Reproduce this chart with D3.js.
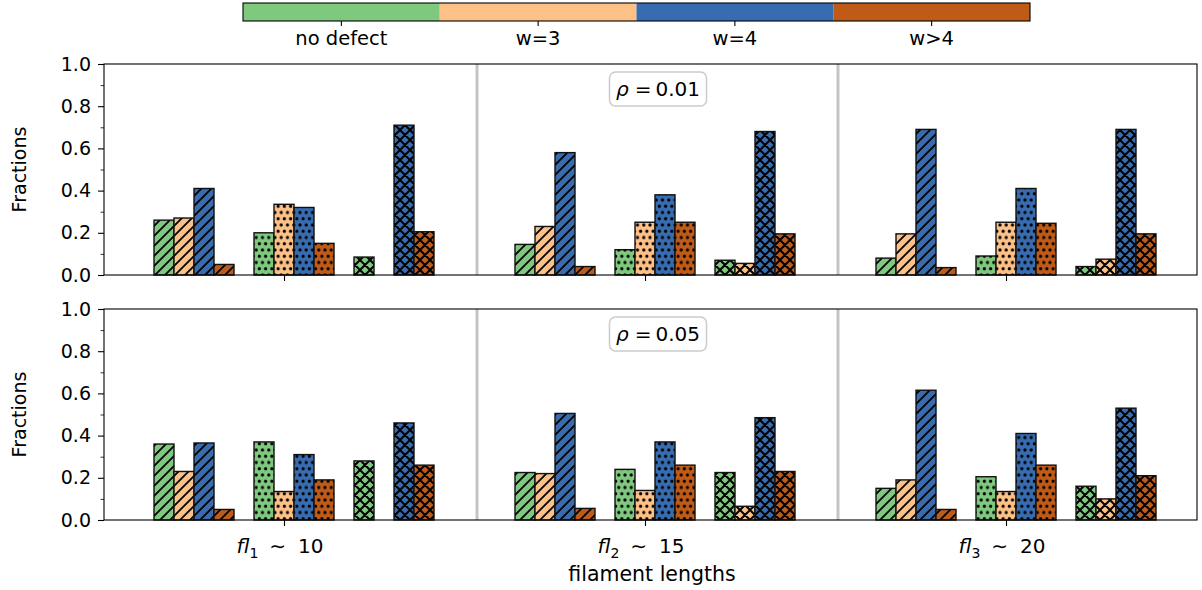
<!DOCTYPE html>
<html><head><meta charset="utf-8">
<script src="https://cdn.jsdelivr.net/npm/d3@7"></script>
<style>body{margin:0;background:#fff} text{font-family:"DejaVu Sans",sans-serif;fill:#000}</style>
</head><body><svg id="c" width="1202" height="590"></svg>
<script>
// ---------- data ----------
const categories = ["no defect", "w=3", "w=4", "w>4"];
const colors = ["#7fc97f", "#fdc086", "#386cb0", "#bf5b17"];
const lengthSubs = ["1", "2", "3"];
const lengthValues = ["10", "15", "20"];
const hatchKinds = ["diag", "dots", "cross"];
const rhoLabels = ["0.01", "0.05"];
const yTicks = [0, 0.2, 0.4, 0.6, 0.8, 1.0];
const yMinorTicks = [0.1, 0.3, 0.5, 0.7, 0.9];

// order: fl1(diag, dots, cross), fl2(...), fl3(...)
const rho001_noDefect = [0.26, 0.20, 0.085, 0.145, 0.12, 0.07, 0.08, 0.09, 0.04];
const rho001_w3       = [0.27, 0.335, 0.0, 0.23, 0.25, 0.055, 0.195, 0.25, 0.075];
const rho001_w4       = [0.41, 0.32, 0.71, 0.58, 0.38, 0.68, 0.69, 0.41, 0.69];
const rho001_wGt4     = [0.05, 0.15, 0.205, 0.04, 0.25, 0.195, 0.035, 0.245, 0.195];

const rho005_noDefect = [0.36, 0.37, 0.28, 0.225, 0.24, 0.225, 0.15, 0.205, 0.16];
const rho005_w3       = [0.23, 0.135, 0.0, 0.22, 0.14, 0.065, 0.19, 0.135, 0.10];
const rho005_w4       = [0.365, 0.31, 0.46, 0.505, 0.37, 0.485, 0.615, 0.41, 0.53];
const rho005_wGt4     = [0.05, 0.19, 0.26, 0.055, 0.26, 0.23, 0.05, 0.26, 0.21];

const panels = [
  [rho001_noDefect, rho001_w3, rho001_w4, rho001_wGt4],
  [rho005_noDefect, rho005_w3, rho005_w4, rho005_wGt4]
];

// ---------- layout ----------
const svg = d3.select("#c");
const FS = 19, FL = 20.5;
const left = 104, right = 1197;
const panelY = [[64, 275], [309, 520]];
const barW = 0.2, groupGap = 3.61;
const x = d3.scaleLinear().domain([-0.5, 10.43]).range([left, right]);

// patterns
const defs = svg.append("defs");
const s1 = 10, s2 = 6.25;
colors.forEach((col, k) => {
  hatchKinds.forEach(h => {
    const id = `p${k}${h}`;
    if (h === "dots") {
      const p = defs.append("pattern").attr("id", id).attr("patternUnits", "userSpaceOnUse")
        .attr("width", s2).attr("height", 2 * s2);
      p.append("rect").attr("width", s2).attr("height", 2 * s2).attr("fill", col);
      [[0, 0], [s2, 0], [0, 2 * s2], [s2, 2 * s2], [s2 / 2, s2]].forEach(([cx, cy]) =>
        p.append("circle").attr("cx", cx).attr("cy", cy).attr("r", 1.6).attr("fill", "#000"));
    } else {
      const s = s1;
      const p = defs.append("pattern").attr("id", id).attr("patternUnits", "userSpaceOnUse")
        .attr("width", s).attr("height", s);
      p.append("rect").attr("width", s).attr("height", s).attr("fill", col);
      let d = `M-1,1L1,-1M0,${s}L${s},0M${s - 1},${s + 1}L${s + 1},${s - 1}`;
      if (h === "cross") d += `M0,0L${s},${s}M-1,${s - 1}L1,${s + 1}M${s - 1},-1L${s + 1},1`;
      p.append("path").attr("d", d).attr("stroke", "#000").attr("stroke-width", h === "cross" ? 2 : 1.8).attr("fill", "none");
    }
  });
});

panels.forEach((vals, pi) => {
  const [top, bot] = panelY[pi];
  const y = d3.scaleLinear().domain([0, 1]).range([bot, top]);
  const g = svg.append("g");

  // separators
  [1, 2].forEach(gi => {
    g.append("line").attr("x1", x(gi * groupGap - 0.38)).attr("x2", x(gi * groupGap - 0.38))
      .attr("y1", top).attr("y2", bot).attr("stroke", "#c4c4c4").attr("stroke-width", 3);
  });

  // bars
  const bars = [];
  for (let gi = 0; gi < 3; gi++) for (let c = 0; c < 3; c++) for (let k = 0; k < 4; k++) {
    bars.push({gi, c, k, v: vals[k][gi * 3 + c]});
  }
  g.selectAll("rect.bar").data(bars.filter(b => b.v > 0)).join("rect").attr("class", "bar")
    .attr("x", b => x(b.gi * groupGap + b.c + b.k * barW))
    .attr("width", x(barW) - x(0))
    .attr("y", b => y(b.v))
    .attr("height", b => y(0) - y(b.v))
    .attr("fill", b => `url(#p${b.k}${hatchKinds[b.c]})`)
    .attr("stroke", "#111").attr("stroke-width", 1.4);

  // frame
  g.append("rect").attr("x", left).attr("y", top).attr("width", right - left).attr("height", bot - top)
    .attr("fill", "none").attr("stroke", "#000").attr("stroke-width", 1.1);

  // y axis
  const ya = g.append("g").attr("transform", `translate(${left},0)`)
    .call(d3.axisLeft(y).tickValues(yTicks).tickFormat(d3.format(".1f")).tickSize(6).tickPadding(7));
  ya.select(".domain").remove();
  ya.selectAll("text").attr("font-size", FS).attr("font-family", "DejaVu Sans");
  ya.selectAll("line").attr("stroke-width", 1.1);
  const ym = g.append("g").attr("transform", `translate(${left},0)`)
    .call(d3.axisLeft(y).tickValues(yMinorTicks).tickFormat("").tickSize(3.5));
  ym.select(".domain").remove();
  ym.selectAll("line").attr("stroke-width", 0.8);

  // x axis ticks
  const tickPos = [0, 1, 2].map(gi => gi * groupGap + 1.3);
  const xa = g.append("g").attr("transform", `translate(0,${bot})`)
    .call(d3.axisBottom(x).tickValues(tickPos).tickFormat("").tickSize(6));
  xa.select(".domain").remove();
  xa.selectAll("line").attr("stroke-width", 1.1);

  // y label
  g.append("text").attr("transform", `translate(26,${(top + bot) / 2}) rotate(-90)`)
    .attr("text-anchor", "middle").attr("font-size", FS).text("Fractions");

  // annotation
  const ann = g.append("g").attr("transform", `translate(658,${top + 25})`);
  ann.append("rect").attr("x", -48.5).attr("y", -17).attr("width", 97).attr("height", 34)
    .attr("rx", 6).attr("fill", "#fff").attr("stroke", "#cccccc").attr("stroke-width", 1.5);
  const at = ann.append("text").attr("text-anchor", "middle").attr("y", 7).attr("font-size", 20);
  at.append("tspan").attr("font-style", "italic").text("ρ");
  at.append("tspan").attr("dx", 6).text("=");
  at.append("tspan").attr("dx", 4).text(rhoLabels[pi]);

  // x tick labels on bottom panel
  if (pi === 1) {
    tickPos.forEach((tp, gi) => {
      const t = g.append("text").attr("x", x(tp) - 4).attr("y", bot + 33).attr("text-anchor", "middle").attr("font-size", 20);
      t.append("tspan").attr("font-style", "italic").text("fl");
      t.append("tspan").attr("font-size", 14).attr("dy", 5).text(lengthSubs[gi]);
      t.append("tspan").attr("dy", -5).attr("dx", 11).text("∼");
      t.append("tspan").attr("dx", 12).text(lengthValues[gi]);
    });
    g.append("text").attr("x", x(1 * groupGap + 1.3) + 7).attr("y", bot + 61).attr("text-anchor", "middle")
      .attr("font-size", FL).text("filament lengths");
  }
});

// colorbar
const cb = d3.scaleBand().domain(categories).range([243, 1030]);
const cbg = svg.append("g");
cbg.selectAll("rect.cb").data(categories).join("rect")
  .attr("x", d => cb(d)).attr("y", 3).attr("width", cb.bandwidth()).attr("height", 18)
  .attr("fill", (d, i) => colors[i]);
cbg.append("rect").attr("x", 243).attr("y", 3).attr("width", 787).attr("height", 18)
  .attr("fill", "none").attr("stroke", "#000").attr("stroke-width", 1.1);
const cba = cbg.append("g").attr("transform", "translate(0,21)")
  .call(d3.axisBottom(cb).tickSize(5).tickPadding(5));
cba.select(".domain").remove();
cba.selectAll("text").attr("font-size", 19.5).attr("font-family", "DejaVu Sans");
cba.selectAll("line").attr("stroke-width", 1.1);
</script></body></html>
